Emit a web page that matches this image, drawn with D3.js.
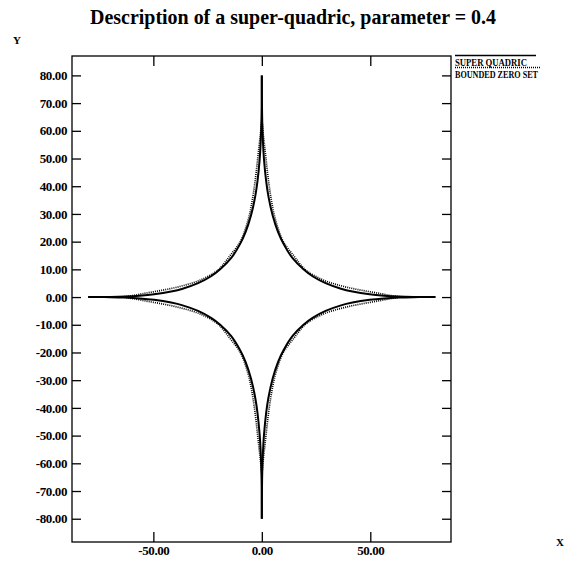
<!DOCTYPE html>
<html>
<head>
<meta charset="utf-8">
<script src="https://cdn.jsdelivr.net/npm/d3@7"></script>
<style>
  html, body { margin: 0; padding: 0; background: #fff; }
  svg { display: block; }
  text { font-family: "Liberation Serif", "Times New Roman", serif; font-weight: bold; fill: #000; }
</style>
</head>
<body>
<svg id="chart" width="583" height="562"></svg>
<script>
// First-quadrant samples of the super-quadric (solid) and its bounded zero set (dotted);
// the other three quadrants are the mirror images.
const quadX = [0, 0.01, 0.05, 0.2, 0.5, 1, 2, 3, 5, 7.5, 10, 14.1, 19.2, 23.4, 29.4, 36.5, 41.8, 49.7, 56.3, 63, 69.9, 74.6, 80];
const quadY = [80, 74.6, 69.9, 63, 56.3, 49.7, 41.8, 36.5, 29.4, 23.4, 19.2, 14.1, 10, 7.5, 5, 3, 2, 1, 0.5, 0.2, 0.05, 0.01, 0];

const zeroX = [0, 0.3, 0.6, 1.2, 1.9, 2.6, 3.4, 4.4, 5.6, 7.4, 9.9, 14.8, 20, 25, 30, 35, 40, 45, 50, 55, 59, 62, 64];
const zeroY = [64, 62, 59, 55, 50, 45, 40, 35, 30, 25, 20, 14.8, 9.9, 7.4, 5.6, 4.4, 3.4, 2.6, 1.9, 1.2, 0.6, 0.3, 0];

const xTicks = [-50, 0, 50];
const yTicks = [80, 70, 60, 50, 40, 30, 20, 10, 0, -10, -20, -30, -40, -50, -60, -70, -80];
const quadrantSigns = [[1, 1], [-1, 1], [-1, -1], [1, -1]];
const legendLabels = ["SUPER QUADRIC", "BOUNDED ZERO SET"];
const title = "Description of a super-quadric, parameter = 0.4";

const svg = d3.select("#chart");
const plotLeft = 72, plotRight = 451, plotTop = 56, plotBottom = 542;

const x = d3.scaleLinear().domain([-87.5, 87.2]).range([plotLeft, plotRight]);
const y = d3.scaleLinear().domain([-88.4, 87.0]).range([plotBottom, plotTop]);

// Tick labels with two decimals and a plain hyphen for negatives
const fmt = d => d3.format(".2f")(d).replace("\u2212", "-");

// Title and axis names
svg.append("text").attr("x", 293).attr("y", 24).attr("text-anchor", "middle")
  .style("font-size", "20px").attr("textLength", 406).attr("lengthAdjust", "spacingAndGlyphs")
  .text(title);
svg.append("text").attr("x", 13).attr("y", 44).style("font-size", "11px").text("Y");
svg.append("text").attr("x", 556).attr("y", 546).style("font-size", "11px").text("X");

// Frame
svg.append("rect").attr("x", plotLeft).attr("y", plotTop)
  .attr("width", plotRight - plotLeft).attr("height", plotBottom - plotTop)
  .attr("fill", "none").attr("stroke", "#000").attr("stroke-width", 1.3);

// Axes with inward ticks
const tickStyle = g => {
  g.select(".domain").remove();
  g.selectAll("line").attr("stroke", "#000").attr("stroke-width", 1.3);
  g.selectAll("text").style("font-size", "13px").style("font-family", "Liberation Serif, serif")
    .style("font-weight", "bold").attr("fill", "#000").style("letter-spacing", "-0.4px");
};
svg.append("g").attr("transform", `translate(0,${plotBottom})`)
  .call(d3.axisBottom(x).tickValues(xTicks).tickSizeInner(-10).tickSizeOuter(0)
    .tickPadding(4).tickFormat(fmt))
  .call(tickStyle);
svg.append("g").attr("transform", `translate(0,${plotTop})`)
  .call(d3.axisTop(x).tickValues(xTicks).tickSizeInner(-10).tickSizeOuter(0).tickFormat(""))
  .call(tickStyle);
svg.append("g").attr("transform", `translate(${plotLeft},0)`)
  .call(d3.axisLeft(y).tickValues(yTicks).tickSizeInner(-9).tickSizeOuter(0)
    .tickPadding(5).tickFormat(fmt))
  .call(tickStyle);
svg.append("g").attr("transform", `translate(${plotRight},0)`)
  .call(d3.axisRight(y).tickValues(yTicks).tickSizeInner(-9).tickSizeOuter(0).tickFormat(""))
  .call(tickStyle);

// Curves
const line = d3.line().x(d => x(d[0])).y(d => y(d[1])).curve(d3.curveCatmullRom.alpha(0.5));
function drawSeries(xs, ys, attrs) {
  quadrantSigns.forEach(([sx, sy]) => {
    const pts = xs.map((v, i) => [sx * v, sy * ys[i]]);
    const p = svg.append("path").datum(pts).attr("d", line).attr("fill", "none");
    Object.entries(attrs).forEach(([k, v]) => p.attr(k, v));
  });
}
drawSeries(zeroX, zeroY, { stroke: "#000", "stroke-width": 1.7, "stroke-dasharray": "1,1.1" });
drawSeries(quadX, quadY, { stroke: "#000", "stroke-width": 2 });

// Legend
const lg = svg.append("g");
lg.append("line").attr("x1", 455).attr("x2", 536).attr("y1", 55.5).attr("y2", 55.5)
  .attr("stroke", "#000").attr("stroke-width", 1.3);
lg.append("text").attr("x", 455).attr("y", 65.5).style("font-size", "11px")
  .attr("textLength", 72).attr("lengthAdjust", "spacingAndGlyphs").text(legendLabels[0]);
lg.append("line").attr("x1", 455).attr("x2", 540).attr("y1", 67.5).attr("y2", 67.5)
  .attr("stroke", "#000").attr("stroke-width", 1.3).attr("stroke-dasharray", "1,1");
lg.append("text").attr("x", 455).attr("y", 77.5).style("font-size", "11px")
  .attr("textLength", 83).attr("lengthAdjust", "spacingAndGlyphs").text(legendLabels[1]);
</script>
</body>
</html>
